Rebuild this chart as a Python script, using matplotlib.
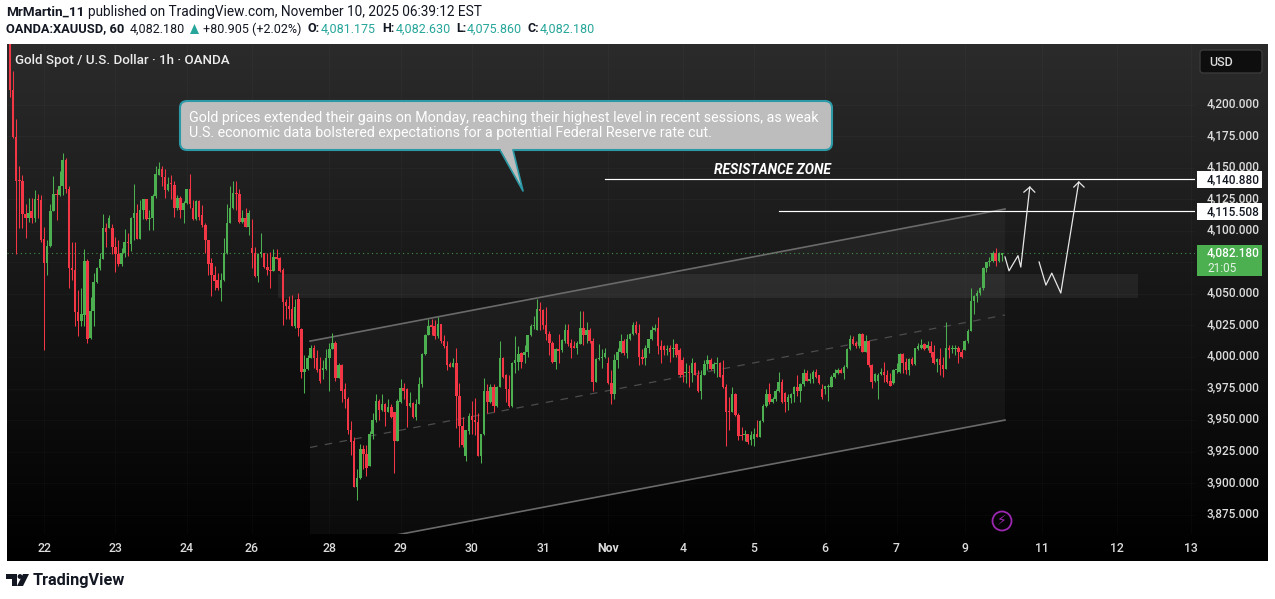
import numpy as np
import matplotlib
matplotlib.use("Agg")
import matplotlib.pyplot as plt
from matplotlib.patches import FancyBboxPatch, Polygon, Rectangle, Circle

plt.rcParams['font.family'] = ['Roboto', 'DejaVu Sans']

# hourly candles
opens = [
    4262,4210,4173,4138.5,4138,4112,4109,4114,4109,4123.5,
    4123,4092,4073,4087,4114,4128,4127,4134,4155,4132,
    4069,4068,4034,4027,4032,4075,4014,4035,4058,4069,
    4076,4101,4101,4101,4086,4080,4072,4081,4090,4088,
    4109,4113,4092,4115,4124,4108,4109,4126,4143,4148,
    4141,4131,4136.4,4135,4117,4125,4115,4121,4132,4117,
    4108,4122,4111,4103,4091,4073,4064,4060,4053,4060,
    4081,4105,4117,4129,4128,4106,4109,4102,4085,4081,
    4063,4080.5,4081,4070,4068,4067,4078,4077,4068,4042,
    4039,4037,4023,4045,4021,3987,3989,3998,4006,3998,
    3989,3988.6,3989,3998,4005,4010,3982,3992,3973,3965,
    3941,3932,3896,3903,3926,3922,3912,3938,3949,3964,
    3957,3961,3955,3959,3955,3932,3963,3974,3973,3960,
    3962,3951,3961,3977,4001,4016,4023.3,4023,4015,4025,
    4011,4007,3993,3991,3994,3968,3944,3920,3940,3952,
    3949,3947,3920,3938,3972,3963,3975,3960,3975,3998,
    3984,3973,3960,3994,3995,4002,4000,4003,4016,4023,
    4020,4037,4036,4024,4017,4010,3995,4004.6,4004,4011,
    4020,4010,4007,4006,4009,4022,4016,4020,4011,3979,
    3997,3998,3999,3994,3978,3969,3996,4003,4011,4002,
    4013,4017,4024,4018,3999,3998,4006,4013,4020,4022,
    4007,4007,4004,4006,4005,4009,4004,3996,3986,3987,
    3986,3994,3984,3972,3984,3993,3996,3989,3993,3994,
    3984,3975,3955.5,3955,3969,3953,3936.2,3937,3938,3933,
    3934,3938,3935,3948,3960,3969,3963,3965,3972,3979,
    3970,3963,3966,3969,3975,3972,3977,3986,3980,3981,
    3987,3984,3973,3973,3975,3975,3983,3986,3988,3986,
    3991,4005,4013,4010,4007,4017,4003,4011,3992,3980,
    3980,3985,3987,3984,3980,3978,3988,3987,4001,3995,
    3988,3997,3993,4005,4006,4009,4006,4007,4003,3995,
    3997,3992,3989,4006,4005,4005,4006,4003,4004,4011,
    4019,4043,4047,4049,4053,4069,4074,4075,4081,4075,4081.175,
]
closes = [
    4210,4173,4138,4138,4112,4109,4113,4109,4124,4123,
    4091,4073,4087,4114,4128,4127,4134,4155,4132,4069,
    4068,4034,4027,4033,4075,4013,4035,4058,4069,4076,
    4101,4098,4109,4086,4080,4072,4081,4090,4089,4109,
    4113,4092,4115,4124,4108,4109,4126,4144,4148,4141,
    4131,4136,4135.8,4117,4125,4115,4121,4132,4120,4108,
    4122,4110,4103,4091,4072,4064,4059,4053,4060,4081,
    4105,4117,4129,4128,4106,4109,4102,4113,4081,4063,
    4080,4081,4070,4068,4067,4078,4076,4067,4042,4039,
    4037,4023,4038,4022,3987,3989,3998,4006,3998,3988,
    3980,3989,3998,4005,4010,3982,3992,3972,3965,3941,
    3931,3896,3903,3926,3922,3911,3938,3949,3964,3957,
    3961,3955,3959,3951,3932,3964,3974,3972,3960,3962,
    3951,3961,3977,4001,4016,4023,4022.7,4015,4025,4011,
    4007,3992,3991,3994,3968,3944,3929,3941,3952,3949,
    3947,3920,3938,3972,3963,3975,3960,3975,3998,3983,
    3973,3960,3994,3996,4001,3995,4003,4016,4023,4024,
    4037,4035,4024,4017,4010,3995,4005,4003.7,4012,4020,
    4009,4006,4006,4010,4022,4016,4020,4011,3979,3997,
    3998,3999,4002,3978,3969,3996,4003,4011,4002,4013,
    4017,4024,4018,3999,3997,4006,4013,4020,4022,4007,
    4004,4004,4005,4003,4006,4000,3984,3984,3987,3986,
    3994,3984,3972,3984,3993,3996,3989,3993,3994,3983,
    3975,3955,3955,3969,3953,3936,3936,3938,3931,3937,
    3938,3935,3948,3960,3969,3963,3965,3972,3979,3963,
    3963,3967,3969,3975,3972,3977,3986,3980,3981,3987,
    3983,3978,3967,3976,3976,3983,3986,3988,3986,3991,
    4005,4013,4009,4007,4017,4003,4011,3992,3979,3985,
    3984,3987,3984,3979,3976,3988,3989,4001,3994,3988,
    3997,3993,4006,4007,4008,4005,4008,4002,3994,3997,
    3992,3989,4006,4004,4005,4006,4003,3999,4011,4019,
    4043,4047,4049,4053,4069,4074,4075,4081,4075,4081,4082.18,
]
highs = [
    4270,4225,4187,4150,4143,4120,4125,4125,4131,4128,
    4127,4102,4091,4120,4142,4132,4146,4160,4156,4134,
    4090,4090,4052,4053,4084,4076,4046,4065,4070,4081,
    4112,4105,4111,4104,4094,4091,4085,4100,4097,4110,
    4136,4120,4123,4124,4124,4115,4128,4150,4153,4150,
    4148,4141,4143,4138,4127,4126,4122,4132,4144,4123,
    4123,4123,4119,4105,4091,4077,4071,4065,4065,4093,
    4120,4134,4138,4138,4132,4115,4117,4115,4108,4086,
    4081,4097,4081,4081,4082,4084,4084,4078,4069,4045,
    4047,4048,4045,4049,4022,4000,4000,4008,4008,4004,
    3999,3996,4005,4010,4018,4011,3994,3993,3978,3967,
    3948,3935,3910,3930,3929,3929,3940,3954,3969,3965,
    3969,3962,3965,3961,3955,3965,3981,3978,3974,3971,
    3963,3965,3983,4002,4017,4029,4029,4028,4030,4025,
    4016,4011,3995,3998,4006,3978,3951,3941,3954,3964,
    3966,3954,3938,3982,3977,3977,3977,3976,4011,3999,
    3985,3984,3995,4015,4007,4003,4008,4016,4025,4031,
    4045,4042,4037,4038,4019,4011,4006,4017,4013,4025,
    4025,4013,4011,4011,4035,4035,4026,4022,4014,3998,
    4009,4005,4006,3999,3988,4001,4006,4017,4013,4017,
    4018,4026,4027,4025,4005,4008,4013,4023,4025,4030,
    4012,4008,4008,4008,4013,4010,4006,3999,3994,3992,
    3998,3995,3988,3988,3996,4000,3998,3995,3999,3995,
    3996,3977,3967,3975,3970,3954,3943,3941,3938,3940,
    3942,3949,3949,3961,3973,3978,3967,3973,3987,3981,
    3971,3969,3970,3976,3984,3978,3989,3988,3986,3988,
    3989,3984,3977,3976,3977,3984,3989,3990,3990,3992,
    4006,4016,4015,4011,4018,4018,4016,4012,3993,3986,
    3986,3990,3995,3988,3986,3989,3994,4002,4002,3998,
    3998,3999,4006,4010,4013,4010,4011,4011,4008,3998,
    4006,3999,4026,4008,4008,4008,4007,4005,4012,4021,
    4053,4048,4052,4054,4070,4074,4078,4083,4085,4082,4082.63,
]
lows = [
    4205,4172,4080,4101,4101,4093,4106,4105,4106,4109,
    4090,4004,4064,4086,4114,4107,4126,4127,4129,4053,
    4060,4023,4015,4023,4023,4010,4013,4023,4057,4068,
    4076,4086,4101,4080,4066,4071,4071,4078,4079,4083,
    4091,4092,4092,4108,4107,4099,4099,4125,4143,4134,
    4125,4130,4124,4110,4115,4109,4105,4120,4117,4107,
    4107,4107,4102,4081,4064,4047,4052,4052,4043,4059,
    4080,4105,4116,4115,4105,4105,4102,4095,4069,4062,
    4058,4078,4069,4064,4053,4067,4076,4066,4024,4029,
    4029,4023,4022,4015,3982,3970,3988,3998,3990,3987,
    3978,3981,3988,3972,4005,3980,3982,3963,3958,3938,
    3921,3896,3885,3902,3910,3904,3912,3934,3947,3949,
    3956,3944,3955,3950,3907,3932,3962,3965,3943,3959,
    3950,3949,3961,3975,4000,4016,4016,4013,4014,4010,
    4006,3988,3991,3991,3942,3927,3927,3916,3938,3938,
    3937,3920,3915,3937,3954,3962,3955,3959,3975,3982,
    3963,3959,3959,3986,3988,3990,3994,3999,4015,4021,
    4020,4020,4021,4012,4000,3994,3989,3994,4003,4010,
    4007,3998,4006,4001,4009,4008,4010,4010,3972,3979,
    3996,3990,3998,3977,3961,3965,3990,4002,4000,3998,
    4012,4016,4017,3992,3993,3992,4002,4012,4019,4001,
    3994,4000,4000,3995,3999,3999,3983,3979,3978,3975,
    3979,3984,3971,3965,3984,3988,3988,3986,3983,3983,
    3974,3928,3941,3955,3952,3933,3933,3932,3930,3929,
    3928,3935,3935,3947,3959,3961,3962,3964,3971,3962,
    3955,3957,3962,3963,3968,3963,3976,3980,3978,3978,
    3982,3977,3965,3969,3964,3975,3982,3985,3986,3981,
    3990,4004,4008,4006,4006,4003,4003,3991,3974,3979,
    3965,3984,3979,3978,3976,3977,3986,3986,3986,3985,
    3984,3992,3992,4004,4005,4004,4004,3999,3993,3987,
    3984,3983,3989,3998,4002,4000,3994,3998,4004,4010,
    4019,4033,4042,4048,4052,4066,4071,4074,4071,4074,4075.86,
]

price_ticks = [4200,4175,4150,4125,4100,4075,4050,4025,4000,3975,3950,3925,3900,3875]
date_ticks = [11,34,57,78,103,126,149,172,193,217,240,263,286,308,333,357,381]
date_labels = ['22','23','24','26','28','29','30','31','Nov','4','5','6','7','9','11','12','13']
resistance = [4140.88, 4115.508]
last_price = 4082.18
# candle readings were taken against the label centres, which sit a bit above the true scale
read_offset = 1.35

W, H = 1275, 599
fig = plt.figure(figsize=(W/100, H/100), dpi=100, facecolor='white')

# pixel layer behind everything, for the dark panel
bg = fig.add_axes([0, 0, 1, 1])
bg.set_xlim(0, W); bg.set_ylim(H, 0); bg.axis('off')
grad = np.linspace(0, 1, 256).reshape(-1, 1)
bg.imshow(grad, extent=[7, 1268, 561, 44], aspect='auto', zorder=0,
          cmap=matplotlib.colors.LinearSegmentedColormap.from_list('p', ['#2b2b2b', '#000000']))
bg.set_xlim(0, W); bg.set_ylim(H, 0)

# price pane
ax = fig.add_axes([7/W, 1-534/H, (1195-7)/W, (534-44)/H])
ax.patch.set_alpha(0)
for s in ax.spines.values():
    s.set_visible(False)
ax.set_xlim(-0.97, 382.3)
ax.set_ylim(3859.7, 4248.1)
ax.set_xticks(date_ticks)
ax.set_yticks(price_ticks)
ax.tick_params(left=False, bottom=False, labelleft=False, labelbottom=False)
ax.grid(True, color='white', alpha=0.025, lw=0.7)
ax.set_axisbelow(True)

# channel and zone drawings
ax.add_patch(Polygon([(96.8,4012.6),(321,4117.3),(321,3950),(96.8,3846)], fc='white', alpha=0.04, ec='none', zorder=1))
ax.add_patch(Rectangle((86.5,4046.7), 277.5, 19, fc='white', alpha=0.06, ec='none', zorder=1))
ax.plot([96.8,321], [4012.6,4117.3], color='#6a6a6a', lw=1.2, zorder=2)
ax.plot([96.8,321], [3846,3950], color='#6a6a6a', lw=1.2, zorder=2)
ax.plot([96.8,321], [3928.3,4033.3], color='#4c4c4c', lw=0.9, ls=(0,(6,6)), zorder=2)

# candles
x = np.arange(len(closes))
o = np.array(opens); c = np.array(closes)
hi = np.array(highs); lo = np.array(lows)
for arr in (o, c, hi, lo):
    arr[:-1] += read_offset
colors = np.where(c >= o, '#4caf50', '#f23645')
ax.vlines(x, lo, hi, colors=colors, lw=0.75, zorder=3)
ax.bar(x, np.maximum(np.abs(c-o), 1.0), bottom=np.minimum(o, c), width=0.8, color=colors, lw=0, zorder=4)

ax.axhline(last_price, color='#4caf50', lw=0.8, ls=(0,(1,3)), alpha=0.8, zorder=2)

# resistance lines and hand drawn paths
ax.plot([192,382.3], [resistance[0]]*2, color='white', lw=0.85, zorder=5)
ax.plot([248,382.3], [resistance[1]]*2, color='white', lw=0.85, zorder=5)
ax.text(246, 4148.2, 'RESISTANCE ZONE', color='white', fontsize=9.9, fontweight='bold', style='italic',
        ha='center', va='center', zorder=6)
ax.plot([321,322.3,325.2,326.1,329], [4079.3,4068.3,4080.3,4071.3,4134.7], color='#e6e6e6', lw=0.9, zorder=5)
ax.plot([327.1,329,330.6], [4130.7,4134.7,4130.7], color='#e6e6e6', lw=0.9, zorder=5)
ax.plot([332,334.2,336.1,339,344.8], [4075.3,4057,4066.5,4050.7,4138.7], color='#e6e6e6', lw=0.9, zorder=5)
ax.plot([343.2,344.8,346.5], [4134.7,4138.7,4134.7], color='#e6e6e6', lw=0.9, zorder=5)

# pixel layer on top: labels, boxes, header
ov = fig.add_axes([0, 0, 1, 1])
ov.patch.set_alpha(0)
ov.set_xlim(0, W); ov.set_ylim(H, 0); ov.axis('off')

for p in price_ticks:
    y = H - ax.transData.transform((0, p))[1]
    ov.text(1233, y-0.7, f'{p:,}.000', color='#dcdcdc', fontsize=8.5, fontweight='medium', ha='center', va='center', zorder=2)
for t, lab in zip(date_ticks, date_labels):
    px = ax.transData.transform((t, 0))[0]
    ov.text(px, 548, lab, color='#dcdcdc', fontsize=8.8, ha='center', va='center',
            fontweight='bold' if lab == 'Nov' else 'medium')

for p in resistance:
    y = H - ax.transData.transform((0, p))[1]
    ov.add_patch(Rectangle((1197, y-8.5), 65, 17, fc='white', ec='none', zorder=3))
    ov.text(1233, y+0.4, f'{p:,.3f}', color='#131722', fontsize=8.5, fontweight='medium', ha='center', va='center', zorder=4)
ov.add_patch(Rectangle((1197, 245), 65, 31, fc='#4caf50', ec='none', zorder=3))
ov.text(1207, 252.5, f'{last_price:,.3f}', color='white', fontsize=8.5, fontweight='medium', ha='left', va='center', zorder=4)
ov.text(1207, 268, '21:05', color='white', fontsize=8.5, ha='left', va='center', zorder=4, alpha=0.85)

ov.add_patch(FancyBboxPatch((1200, 50), 62, 23, boxstyle='round,pad=0,rounding_size=3',
                            fc='#0e0e0e', ec='#3a3a3a', lw=1))
ov.text(1209, 62, 'USD', color='#dcdcdc', fontsize=9, fontweight='medium', ha='left', va='center')

ov.text(15, 60.5, 'Gold Spot / U.S. Dollar · 1h · OANDA', color='#ececec', fontsize=9.6, fontweight='medium',
        ha='left', va='center')

# callout
ov.add_patch(FancyBboxPatch((180, 101), 652, 49, boxstyle='round,pad=0,rounding_size=7',
                            fc='#bdbdbd', ec='#2b9aa6', lw=1.5, zorder=3))
ov.add_patch(Polygon([(500,149),(523,191),(513,149)], fc='#bdbdbd', ec='none', zorder=3))
ov.plot([500,523,513], [150,191,150], color='#2b9aa6', lw=1.2, zorder=4)
ov.add_patch(Rectangle((501, 147), 11, 4, fc='#bdbdbd', ec='none', zorder=5))
ov.text(189, 118, 'Gold prices extended their gains on Monday, reaching their highest level in recent sessions, as weak',
        color='white', fontsize=10.3, ha='left', va='center', zorder=6)
ov.text(189, 133, 'U.S. economic data bolstered expectations for a potential Federal Reserve rate cut.',
        color='white', fontsize=10.3, ha='left', va='center', zorder=6)

# lightning mark
ov.add_patch(Circle((1002, 521), 9.5, fc='none', ec='#9c27b0', lw=1.3))
ov.text(1002, 521, '\u26a1', color='#9c27b0', fontsize=10, ha='center', va='center', family='DejaVu Sans')

# header lines
head = [
    (6, 12, 'MrMartin_11', 'bold', '#131722', 9.7),
    (88, 12, 'published on TradingView.com, November 10, 2025 06:39:12 EST', 'normal', '#131722', 9.85),
    (6, 29, 'OANDA:XAUUSD, 60', 'bold', '#131722', 9.3),
    (130, 29, '4,082.180', 'normal', '#131722', 9),
    (203, 29, '+80.905 (+2.02%)', 'normal', '#131722', 9),
    (307, 29, 'O:', 'bold', '#131722', 9),
    (321, 29, '4,081.175', 'normal', '#26a69a', 9),
    (382, 29, 'H:', 'bold', '#131722', 9),
    (396, 29, '4,082.630', 'normal', '#26a69a', 9),
    (456, 29, 'L:', 'bold', '#131722', 9),
    (467, 29, '4,075.860', 'normal', '#26a69a', 9),
    (527, 29, 'C:', 'bold', '#131722', 9),
    (540, 29, '4,082.180', 'normal', '#26a69a', 9),
]
for hx, hy, s, w, col, fs in head:
    ov.text(hx, hy, s, color=col, fontsize=fs, fontweight=w, ha='left', va='center')
ov.add_patch(Polygon([(190,34),(199,34),(194.5,24)], fc='#26a69a', ec='none'))

# logo
ov.add_patch(Polygon([(6,574),(17,574),(17,586),(12,586),(12,579),(6,579)], fc='#131722', ec='none'))
ov.add_patch(Circle((20,576.5), 2.4, fc='#131722', ec='none'))
ov.add_patch(Polygon([(23,574),(29,574),(23,586),(17,586)], fc='#131722', ec='none'))
ov.text(33, 580, 'TradingView', color='#131722', fontsize=11.7, fontweight='bold', ha='left', va='center')

fig.savefig('out.png', dpi=100, facecolor='white')
